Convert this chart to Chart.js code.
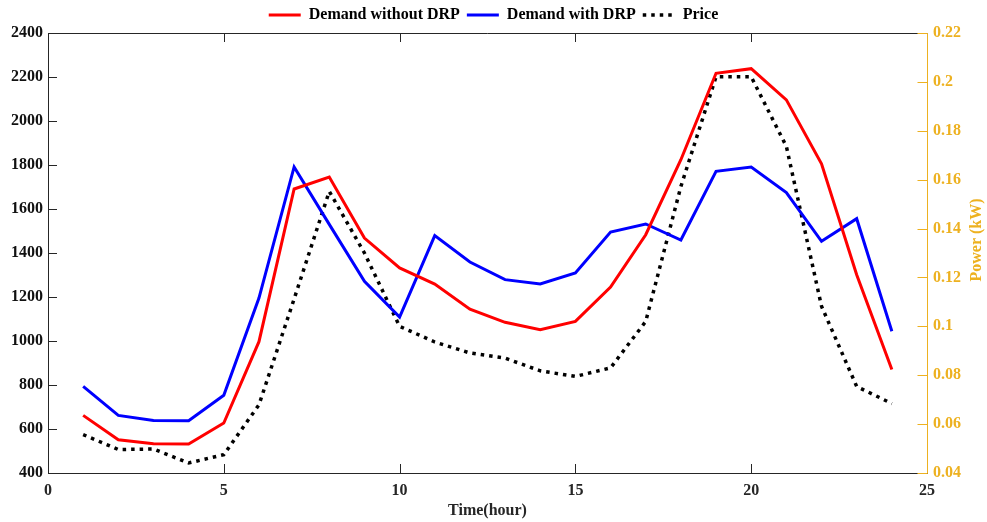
<!DOCTYPE html>
<html>
<head>
<meta charset="utf-8">
<title>Demand and price over 24 hours</title>
<script src="https://cdn.jsdelivr.net/npm/chart.js@4.4.1/dist/chart.umd.min.js"></script>
<style>
  html, body { margin: 0; padding: 0; background: #ffffff; }
  #wrap { width: 987px; height: 522px; }
</style>
</head>
<body>
<div id="wrap"><canvas id="chart" width="987" height="522"></canvas></div>
<script>
// Hourly series
const hours = [1, 2, 3, 4, 5, 6, 7, 8, 9, 10, 11, 12, 13, 14, 15, 16, 17, 18, 19, 20, 21, 22, 23, 24];
const demandWithoutDRP = [662, 551, 533, 532, 627, 997, 1691, 1745, 1468, 1332, 1259, 1145,
                          1085, 1051, 1089, 1245, 1483, 1824, 2217, 2238, 2096, 1805, 1301, 870];
const demandWithDRP = [794, 662, 639, 638, 753, 1195, 1791, 1530, 1271, 1109, 1479, 1359,
                       1279, 1259, 1309, 1495, 1532, 1459, 1771, 1791, 1675, 1453, 1556, 1044];
const price = [0.0557, 0.0496, 0.0498, 0.0441, 0.0475, 0.0679, 0.1112, 0.1552, 0.1300, 0.1000, 0.0936, 0.0891,
               0.0870, 0.0818, 0.0795, 0.0830, 0.1020, 0.1572, 0.2021, 0.2021, 0.1736, 0.1082, 0.0754, 0.0684];

// Axis tick settings
const xTicks = { min: 0, max: 25, step: 5 };
const leftTicks = { min: 400, max: 2400, step: 200 };
const rightTicks = { min: 0.04, max: 0.22, step: 0.02 };

const FONT = '"Liberation Serif", "Times New Roman", serif';
const GOLD = '#EDB120';
const DARK = '#262626';

const toPoints = vals => hours.map((h, i) => ({ x: h, y: vals[i] }));

// Inward tick marks, frame lines and the right axis title
const axisDecor = {
  id: 'axisDecor',
  afterDraw(chart) {
    const { ctx, chartArea: a, scales } = chart;
    const right = Math.round(a.right) + 0.5;
    ctx.save();
    ctx.lineWidth = 1;
    ctx.strokeStyle = DARK;
    ctx.beginPath();
    ctx.moveTo(a.left, Math.round(a.top) + 0.5);
    ctx.lineTo(right, Math.round(a.top) + 0.5);
    scales.x.ticks.forEach(t => {
      const px = Math.round(scales.x.getPixelForValue(t.value)) + 0.5;
      if (px <= a.left + 1 || px >= a.right - 1) return;
      ctx.moveTo(px, a.bottom); ctx.lineTo(px, a.bottom - 9);
      ctx.moveTo(px, a.top); ctx.lineTo(px, a.top + 9);
    });
    scales.y.ticks.forEach(t => {
      const py = Math.round(scales.y.getPixelForValue(t.value)) + 0.5;
      if (py <= a.top + 1 || py >= a.bottom - 1) return;
      ctx.moveTo(a.left, py); ctx.lineTo(a.left + 9, py);
    });
    ctx.stroke();

    ctx.strokeStyle = GOLD;
    ctx.beginPath();
    ctx.moveTo(right, Math.round(a.top) + 0.5);
    ctx.lineTo(right, Math.round(a.bottom) + 0.5);
    scales.y1.ticks.forEach(t => {
      const py = Math.round(scales.y1.getPixelForValue(t.value)) + 0.5;
      ctx.moveTo(right, py); ctx.lineTo(right - 10, py);
    });
    ctx.stroke();

    ctx.fillStyle = GOLD;
    ctx.font = 'bold 16px ' + FONT;
    ctx.textAlign = 'center';
    ctx.textBaseline = 'middle';
    ctx.translate(scales.y1.right - 10, (a.top + a.bottom) / 2 - 13);
    ctx.rotate(-Math.PI / 2);
    ctx.fillText('Power (kW)', 0, 0);
    ctx.restore();
  }
};

new Chart(document.getElementById('chart'), {
  type: 'line',
  data: {
    datasets: [
      {
        label: 'Demand without DRP',
        data: toPoints(demandWithoutDRP),
        borderColor: '#FF0000',
        backgroundColor: '#FF0000',
        borderWidth: 3,
        pointRadius: 0,
        yAxisID: 'y'
      },
      {
        label: 'Demand with DRP',
        data: toPoints(demandWithDRP),
        borderColor: '#0000FF',
        backgroundColor: '#0000FF',
        borderWidth: 3,
        pointRadius: 0,
        yAxisID: 'y'
      },
      {
        label: 'Price',
        data: toPoints(price),
        borderColor: '#000000',
        backgroundColor: '#000000',
        borderWidth: 3.5,
        borderDash: [3.5, 5],
        borderCapStyle: 'butt',
        pointRadius: 0,
        yAxisID: 'y1'
      }
    ]
  },
  options: {
    responsive: false,
    animation: false,
    devicePixelRatio: 1,
    layout: { padding: 0 },
    plugins: {
      tooltip: { enabled: false },
      legend: {
        position: 'top',
        labels: {
          usePointStyle: true,
          pointStyle: 'line',
          pointStyleWidth: 32,
          padding: 7,
          color: '#000000',
          font: { family: FONT, size: 16, weight: 'bold' },
          generateLabels(chart) {
            const items = Chart.defaults.plugins.legend.labels.generateLabels(chart);
            items.forEach(it => {
              const ds = chart.data.datasets[it.datasetIndex];
              it.lineDash = ds.borderDash || [];
              it.lineWidth = ds.borderWidth;
              it.strokeStyle = ds.borderColor;
              it.lineCap = 'butt';
            });
            return items;
          }
        }
      }
    },
    scales: {
      x: {
        type: 'linear',
        min: xTicks.min,
        max: xTicks.max,
        afterFit: s => { s.height = 49; },
        grid: { display: false, drawTicks: false },
        border: { display: true, color: DARK, width: 1 },
        ticks: {
          stepSize: xTicks.step,
          padding: 8,
          color: DARK,
          font: { family: FONT, size: 16, weight: 'bold' }
        },
        title: {
          display: true,
          text: 'Time(hour)',
          color: DARK,
          padding: { top: 0, bottom: 2 },
          font: { family: FONT, size: 16, weight: 'bold' }
        }
      },
      y: {
        position: 'left',
        min: leftTicks.min,
        max: leftTicks.max,
        afterFit: s => { s.width = 48; },
        grid: { display: false, drawTicks: false },
        border: { display: true, color: DARK, width: 1 },
        ticks: {
          stepSize: leftTicks.step,
          padding: 5,
          color: '#111111',
          font: { family: FONT, size: 16, weight: 'bold' },
          callback: v => String(v)
        }
      },
      y1: {
        position: 'right',
        min: rightTicks.min,
        max: rightTicks.max,
        afterFit: s => { s.width = 60; },
        grid: { display: false, drawTicks: false },
        border: { display: false },
        ticks: {
          stepSize: rightTicks.step,
          padding: 6,
          color: GOLD,
          font: { family: FONT, size: 16, weight: 'bold' },
          callback: v => String(Number(v.toFixed(2)))
        }
      }
    }
  },
  plugins: [axisDecor]
});
</script>
</body>
</html>
